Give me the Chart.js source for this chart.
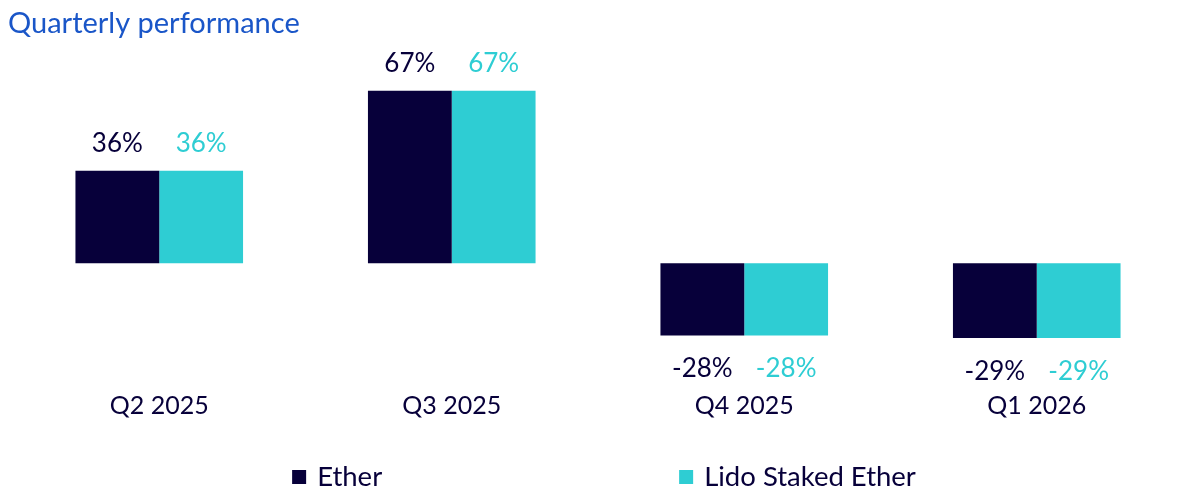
<!DOCTYPE html>
<html>
<head>
<meta charset="utf-8">
<script src="https://cdn.jsdelivr.net/npm/chart.js"></script>
<style>
  html, body { margin: 0; padding: 0; background: #ffffff; }
  #wrap { width: 1200px; height: 494px; }
</style>
</head>
<body>
<div id="wrap"><canvas id="chart"></canvas></div>
<script>
const quarters = ["Q2 2025", "Q3 2025", "Q4 2025", "Q1 2026"];
const etherReturns = [36, 67, -28, -29];
const lidoReturns = [36, 67, -28, -29];
const seriesNames = ["Ether", "Lido Staked Ether"];

const NAVY = "#07003a";
const TEAL = "#2ecdd3";
const FONT = "Lato";

// value labels above / below each bar
const valueLabels = {
  id: "valueLabels",
  afterDatasetsDraw(chart) {
    const ctx = chart.ctx;
    ctx.save();
    ctx.font = "26px " + FONT;
    ctx.textAlign = "center";
    ctx.textBaseline = "alphabetic";
    chart.data.datasets.forEach((ds, i) => {
      chart.getDatasetMeta(i).data.forEach((bar, j) => {
        const v = ds.data[j];
        ctx.fillStyle = ds.backgroundColor;
        const y = v >= 0 ? bar.y - 19 : bar.y + 42;
        ctx.fillText(v + "%", bar.x, y);
      });
    });
    ctx.restore();
  }
};

// legend row at the bottom with a wide gap between items
const bottomLegend = {
  id: "bottomLegend",
  afterDraw(chart) {
    const ctx = chart.ctx;
    ctx.save();
    ctx.font = "27.5px " + FONT;
    ctx.textBaseline = "middle";
    const box = 14, gap = 11, spacing = 297;
    const items = chart.data.datasets.map(ds => ({
      text: ds.label,
      color: ds.backgroundColor,
      w: box + gap + ctx.measureText(ds.label).width
    }));
    const total = items.reduce((s, it) => s + it.w, 0) + spacing * (items.length - 1);
    let x = 604 - total / 2;
    const y = 477;
    items.forEach(it => {
      ctx.fillStyle = it.color;
      ctx.fillRect(x, y - box / 2, box, box);
      ctx.fillStyle = NAVY;
      ctx.fillText(it.text, x + box + gap, y);
      x += it.w + spacing;
    });
    ctx.restore();
  }
};

new Chart(document.getElementById("chart"), {
  type: "bar",
  data: {
    labels: quarters,
    datasets: [
      { label: seriesNames[0], data: etherReturns, backgroundColor: NAVY },
      { label: seriesNames[1], data: lidoReturns, backgroundColor: TEAL }
    ]
  },
  options: {
    responsive: true,
    maintainAspectRatio: false,
    animation: false,
    layout: { padding: { left: 8, right: 17, top: 0, bottom: 70 } },
    datasets: {
      bar: { barPercentage: 1, categoryPercentage: 0.573 }
    },
    scales: {
      x: {
        grid: { display: false, drawTicks: false },
        border: { display: false },
        ticks: { color: NAVY, padding: 3, font: { family: FONT, size: 25 } }
      },
      y: {
        min: -48.4,
        max: 78.2,
        grid: { display: false, drawTicks: false },
        border: { display: false },
        ticks: { display: false },
        afterFit(scale) { scale.width = 5; }
      }
    },
    plugins: {
      legend: { display: false },
      tooltip: { enabled: false },
      title: {
        display: true,
        text: "Quarterly performance",
        align: "start",
        color: "#1a56c8",
        font: { family: FONT, size: 29, weight: "normal" },
        padding: { top: 6.6, bottom: 20.6 }
      }
    }
  },
  plugins: [valueLabels, bottomLegend]
});
</script>
</body>
</html>
